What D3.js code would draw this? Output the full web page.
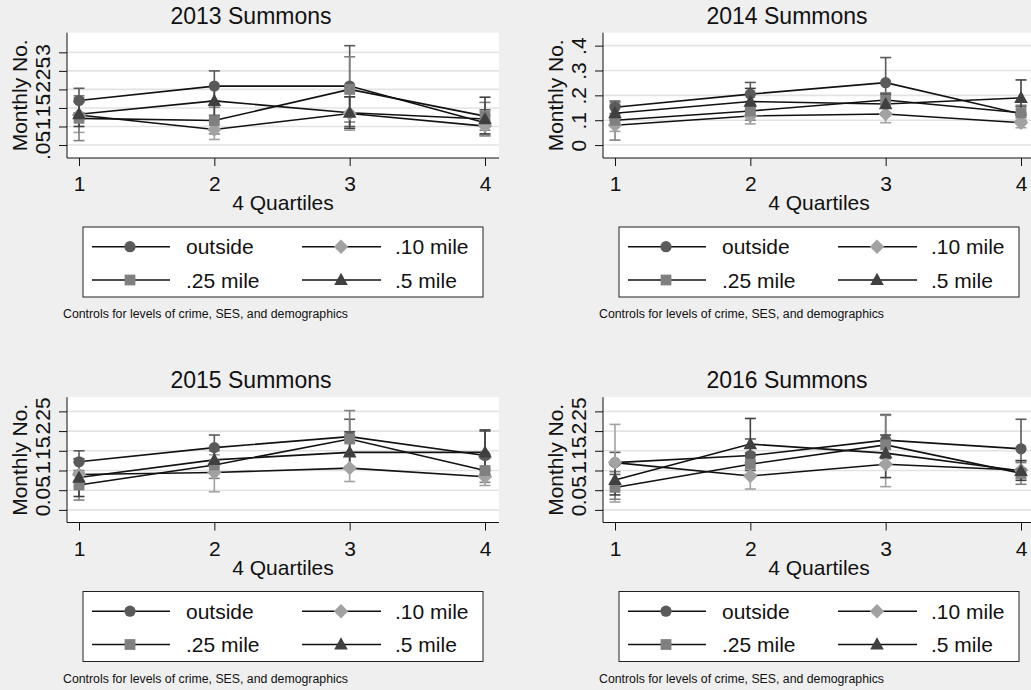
<!DOCTYPE html>
<html>
<head>
<meta charset="utf-8">
<script src="https://cdn.jsdelivr.net/npm/d3@7/dist/d3.min.js"></script>
<style>
  html, body { margin: 0; padding: 0; background: #efefef; }
  svg { display: block; font-family: "Liberation Sans", Arial, sans-serif; }
</style>
</head>
<body>
<svg id="chart" width="1031" height="690"></svg>
<script>
// ---- data -------------------------------------------------------------
const quartiles = [1, 2, 3, 4];
const seriesNames = ["outside", ".10 mile", ".25 mile", ".5 mile"];
const panelTitles = ["2013 Summons", "2014 Summons", "2015 Summons", "2016 Summons"];
const xTitle = "4 Quartiles";
const yTitle = "Monthly No.";
const noteText = "Controls for levels of crime, SES, and demographics";

// y-axis ticks (Stata style labels) and axis extent for each year
const yTicks2013 = [0.05, 0.1, 0.15, 0.2, 0.25, 0.3];
const yTickLabels2013 = [".05", ".1", ".15", ".2", ".25", ".3"];
const yExtent2013 = [0.015, 0.353];

const yTicks2014 = [0, 0.1, 0.2, 0.3, 0.4];
const yTickLabels2014 = ["0", ".1", ".2", ".3", ".4"];
const yExtent2014 = [-0.052, 0.452];

const yTicks2015 = [0, 0.05, 0.1, 0.15, 0.2, 0.25];
const yTickLabels2015 = ["0", ".05", ".1", ".15", ".2", ".25"];
const yExtent2015 = [-0.032, 0.286];

const yTicks2016 = [0, 0.05, 0.1, 0.15, 0.2, 0.25];
const yTickLabels2016 = ["0", ".05", ".1", ".15", ".2", ".25"];
const yExtent2016 = [-0.032, 0.286];

// predicted margins by quartile; rows: outside, .10 mile, .25 mile, .5 mile
const est2013 = [[0.170, 0.209, 0.209, 0.110], [0.131, 0.092, 0.135, 0.101], [0.122, 0.116, 0.200, 0.128], [0.133, 0.169, 0.137, 0.120]];
const lo2013  = [[0.137, 0.168, 0.100, 0.076], [0.084, 0.065, 0.090, 0.074], [0.062, 0.080, 0.112, 0.090], [0.100, 0.130, 0.095, 0.080]];
const hi2013  = [[0.203, 0.250, 0.318, 0.145], [0.178, 0.120, 0.180, 0.130], [0.183, 0.152, 0.288, 0.165], [0.166, 0.208, 0.180, 0.179]];

const est2014 = [[0.152, 0.205, 0.251, 0.125], [0.080, 0.117, 0.125, 0.090], [0.100, 0.137, 0.181, 0.130], [0.128, 0.175, 0.165, 0.190]];
const lo2014  = [[0.127, 0.160, 0.150, 0.095], [0.055, 0.085, 0.090, 0.070], [0.020, 0.100, 0.150, 0.100], [0.100, 0.140, 0.130, 0.120]];
const hi2014  = [[0.177, 0.252, 0.352, 0.155], [0.105, 0.150, 0.160, 0.110], [0.170, 0.175, 0.210, 0.160], [0.160, 0.228, 0.205, 0.262]];

const est2015 = [[0.122, 0.158, 0.186, 0.138], [0.090, 0.095, 0.106, 0.084], [0.063, 0.114, 0.180, 0.100], [0.082, 0.127, 0.146, 0.146]];
const lo2015  = [[0.095, 0.125, 0.140, 0.100], [0.060, 0.046, 0.072, 0.062], [0.025, 0.080, 0.110, 0.070], [0.034, 0.095, 0.105, 0.090]];
const hi2015  = [[0.150, 0.190, 0.230, 0.200], [0.120, 0.140, 0.140, 0.105], [0.100, 0.150, 0.252, 0.130], [0.130, 0.160, 0.198, 0.203]];

const est2016 = [[0.120, 0.138, 0.177, 0.155], [0.120, 0.086, 0.116, 0.101], [0.057, 0.116, 0.165, 0.093], [0.076, 0.167, 0.144, 0.099]];
const lo2016  = [[0.090, 0.100, 0.130, 0.100], [0.020, 0.053, 0.059, 0.080], [0.027, 0.090, 0.120, 0.065], [0.038, 0.120, 0.082, 0.075]];
const hi2016  = [[0.146, 0.180, 0.242, 0.230], [0.217, 0.120, 0.175, 0.125], [0.097, 0.145, 0.240, 0.120], [0.115, 0.232, 0.190, 0.125]];

// ---- styling ------------------------------------------------------------
const markerColors = ["#5a5a5a", "#a2a2a2", "#808080", "#404040"];
const markerShapes = ["circle", "diamond", "square", "triangle"];
const lineColor = "#111";
const gridColor = "#e3e3e3";
const plotBg = "#ffffff";
const textSize = 21;
const titleSize = 23;
const noteSize = 12.3;

const panels = [
  { title: panelTitles[0], ticks: yTicks2013, labels: yTickLabels2013, extent: yExtent2013, est: est2013, lo: lo2013, hi: hi2013, dx: 0,   dy: 0 },
  { title: panelTitles[1], ticks: yTicks2014, labels: yTickLabels2014, extent: yExtent2014, est: est2014, lo: lo2014, hi: hi2014, dx: 536, dy: 0 },
  { title: panelTitles[2], ticks: yTicks2015, labels: yTickLabels2015, extent: yExtent2015, est: est2015, lo: lo2015, hi: hi2015, dx: 0,   dy: 364.5 },
  { title: panelTitles[3], ticks: yTicks2016, labels: yTickLabels2016, extent: yExtent2016, est: est2016, lo: lo2016, hi: hi2016, dx: 536, dy: 364.5 }
];

// panel geometry (local coordinates)
const plot = { left: 67, right: 499, top: 32.7, bottom: 158 };
const xPad = 12;

function markerPath(shape) {
  if (shape === "circle") {
    const r = 5.6;
    return `M${-r},0A${r},${r} 0 1,0 ${r},0A${r},${r} 0 1,0 ${-r},0Z`;
  }
  if (shape === "square") {
    const h = 5.4;
    return `M${-h},${-h}H${h}V${h}H${-h}Z`;
  }
  if (shape === "diamond") {
    const h = 7.2;
    return `M0,${-h}L${h},0L0,${h}L${-h},0Z`;
  }
  // triangle
  const s = 6.8;
  return `M0,${-s * 1.05}L${s},${s * 0.75}L${-s},${s * 0.75}Z`;
}

const svg = d3.select("#chart");
svg.append("rect").attr("width", 1031).attr("height", 690).attr("fill", "#efefef");

panels.forEach(p => {
  const g = svg.append("g").attr("transform", `translate(${p.dx},${p.dy})`);

  const x = d3.scaleLinear().domain([quartiles[0], quartiles[quartiles.length - 1]])
    .range([plot.left + xPad, plot.right - 14]);
  const y = d3.scaleLinear().domain(p.extent).range([plot.bottom, plot.top]);

  // title
  g.append("text").attr("x", 251).attr("y", 23.5).attr("text-anchor", "middle")
    .attr("font-size", titleSize).attr("fill", "#111").text(p.title);

  // plot region
  g.append("rect").attr("x", plot.left).attr("y", plot.top)
    .attr("width", plot.right - plot.left).attr("height", plot.bottom - plot.top)
    .attr("fill", plotBg);

  // gridlines
  g.append("g").selectAll("line").data(p.ticks).join("line")
    .attr("x1", plot.left).attr("x2", plot.right)
    .attr("y1", d => y(d)).attr("y2", d => y(d))
    .attr("stroke", gridColor).attr("stroke-width", 1.6);

  // y axis
  const yAxis = d3.axisLeft(y).tickValues(p.ticks).tickSize(8).tickSizeOuter(0)
    .tickFormat((d, i) => p.labels[i]);
  const ya = g.append("g").attr("transform", `translate(${plot.left},0)`).call(yAxis);
  ya.select(".domain").attr("stroke", "#111").attr("d", `M0,${plot.top}V${plot.bottom}`);
  ya.selectAll(".tick line").attr("stroke", "#111");
  ya.selectAll(".tick text")
    .attr("x", null).attr("dy", null).attr("y", null)
    .attr("transform", "translate(-17,0) rotate(-90)")
    .attr("text-anchor", "middle").attr("font-size", textSize)
    .attr("font-family", "Liberation Sans, Arial, sans-serif").attr("fill", "#111");

  // x axis
  const xAxis = d3.axisBottom(x).tickValues(quartiles).tickSize(8).tickSizeOuter(0)
    .tickFormat(d3.format("d"));
  const xa = g.append("g").attr("transform", `translate(0,${plot.bottom})`).call(xAxis);
  xa.select(".domain").attr("stroke", "#111").attr("d", `M${plot.left},0H${plot.right}`);
  xa.selectAll(".tick line").attr("stroke", "#111");
  xa.selectAll(".tick text").attr("y", 33).attr("dy", null).attr("font-size", textSize)
    .attr("font-family", "Liberation Sans, Arial, sans-serif").attr("fill", "#111");

  // axis titles
  g.append("text").attr("x", (plot.left + plot.right) / 2).attr("y", 210)
    .attr("text-anchor", "middle").attr("font-size", textSize).attr("fill", "#111").text(xTitle);
  g.append("text")
    .attr("transform", `translate(27,${(plot.top + plot.bottom) / 2}) rotate(-90)`)
    .attr("text-anchor", "middle").attr("font-size", textSize).attr("fill", "#111").text(yTitle);

  // confidence-interval caps
  const ciG = g.append("g");
  seriesNames.forEach((name, si) => {
    const rows = quartiles.map((q, qi) => ({ q, lo: p.lo[si][qi], hi: p.hi[si][qi] }));
    const c = ciG.append("g").attr("stroke", markerColors[si]).attr("stroke-width", 1.6);
    c.selectAll("line.v").data(rows).join("line").attr("class", "v")
      .attr("x1", d => x(d.q)).attr("x2", d => x(d.q))
      .attr("y1", d => y(d.lo)).attr("y2", d => y(d.hi));
    c.selectAll("line.t").data(rows).join("line").attr("class", "t")
      .attr("x1", d => x(d.q) - 5.5).attr("x2", d => x(d.q) + 5.5)
      .attr("y1", d => y(d.hi)).attr("y2", d => y(d.hi));
    c.selectAll("line.b").data(rows).join("line").attr("class", "b")
      .attr("x1", d => x(d.q) - 5.5).attr("x2", d => x(d.q) + 5.5)
      .attr("y1", d => y(d.lo)).attr("y2", d => y(d.lo));
  });

  // connecting lines
  const line = d3.line().x((d, i) => x(quartiles[i])).y(d => y(d));
  seriesNames.forEach((name, si) => {
    g.append("path").attr("d", line(p.est[si])).attr("fill", "none")
      .attr("stroke", lineColor).attr("stroke-width", 1.6);
  });

  // markers
  seriesNames.forEach((name, si) => {
    g.append("g").selectAll("path").data(p.est[si]).join("path")
      .attr("transform", (d, i) => `translate(${x(quartiles[i])},${y(d)})`)
      .attr("d", markerPath(markerShapes[si]))
      .attr("fill", markerColors[si]);
  });

  // legend
  const lg = g.append("g");
  lg.append("rect").attr("x", 83).attr("y", 227).attr("width", 400).attr("height", 70)
    .attr("fill", "#ffffff").attr("stroke", "#222").attr("stroke-width", 1);
  const colX = [[92, 170, 130, 186], [302, 381, 341, 395]];
  const rowY = [246.7, 280];
  seriesNames.forEach((name, si) => {
    const [x1, x2, mx, tx] = colX[si % 2];
    const ry = rowY[Math.floor(si / 2)];
    lg.append("line").attr("x1", x1).attr("x2", x2).attr("y1", ry).attr("y2", ry)
      .attr("stroke", lineColor).attr("stroke-width", 1.6);
    lg.append("path").attr("transform", `translate(${mx},${ry})`)
      .attr("d", markerPath(markerShapes[si])).attr("fill", markerColors[si]);
    lg.append("text").attr("x", tx).attr("y", ry + 7.5).attr("font-size", textSize)
      .attr("fill", "#111").text(name);
  });

  // note
  g.append("text").attr("x", 63).attr("y", 318).attr("font-size", noteSize)
    .attr("fill", "#111").text(noteText);
});
</script>
</body>
</html>
